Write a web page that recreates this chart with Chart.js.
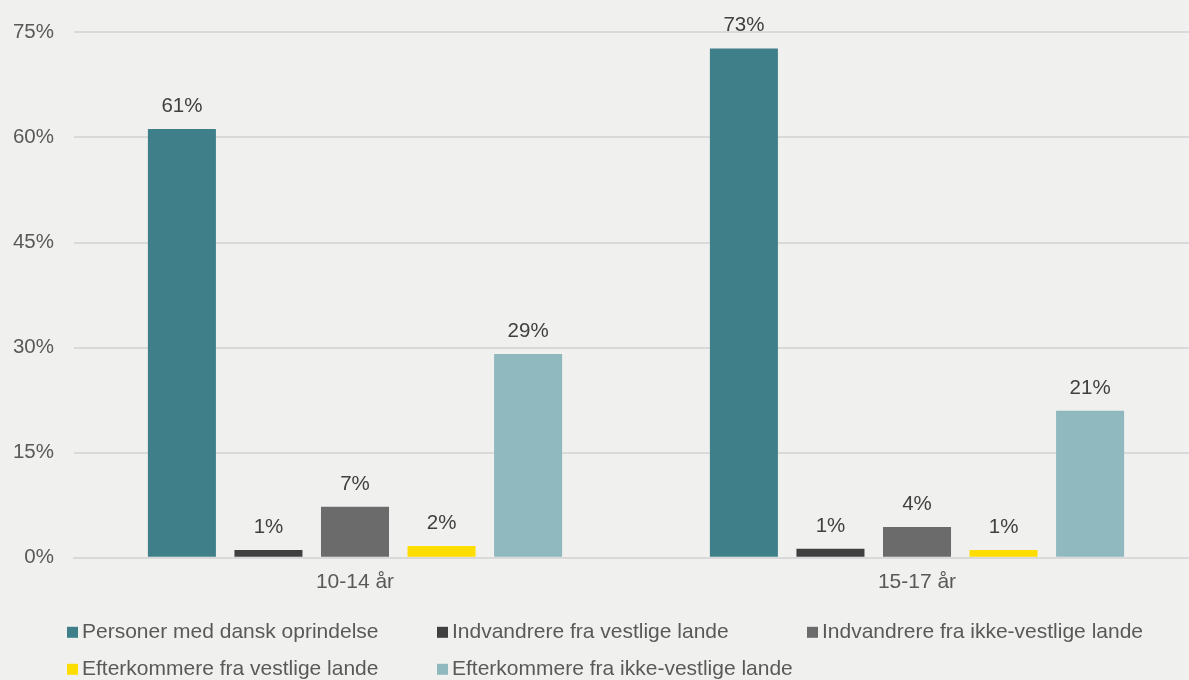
<!DOCTYPE html>
<html>
<head>
<meta charset="utf-8">
<script src="https://cdn.jsdelivr.net/npm/chart.js@4/dist/chart.umd.min.js"></script>
<style>
  html, body { margin: 0; padding: 0; background: #f0f0ee; overflow: hidden; }
  #wrap { width: 1200px; height: 680px; }
</style>
</head>
<body>
<div id="wrap"><canvas id="ageChart" width="1200" height="680"></canvas></div>
<script>
// ===============================
// DATA
// ===============================
const categories = ['10-14 år', '15-17 år'];
const seriesNames = [
  'Personer med dansk oprindelse',
  'Indvandrere fra vestlige lande',
  'Indvandrere fra ikke-vestlige lande',
  'Efterkommere fra vestlige lande',
  'Efterkommere fra ikke-vestlige lande',
];
const danskOprindelse = [61.2, 72.7];
const indvVestlige = [1.1, 1.3];
const indvIkkeVestlige = [7.3, 4.4];
const efterVestlige = [1.7, 1.1];
const efterIkkeVestlige = [29.1, 21.0];
const yTicks = [0, 15, 30, 45, 60, 75];

const seriesValues = [danskOprindelse, indvVestlige, indvIkkeVestlige, efterVestlige, efterIkkeVestlige];
const seriesColors = ['#3f7f8a', '#404040', '#6b6b6b', '#ffdd00', '#8fb8bf'];

const FONT = '"Liberation Sans", Arial, sans-serif';

// ===============================
// PLUGINS – value labels + legend grid
// ===============================
const valueLabels = {
  id: 'valueLabels',
  afterDatasetsDraw(chart) {
    const { ctx } = chart;
    ctx.save();
    ctx.font = `20.5px ${FONT}`;
    ctx.fillStyle = '#404040';
    ctx.textAlign = 'center';
    ctx.textBaseline = 'alphabetic';
    chart.data.datasets.forEach((ds, i) => {
      chart.getDatasetMeta(i).data.forEach((bar, j) => {
        ctx.fillText(`${Math.round(ds.data[j])}%`, bar.x, bar.y - 17);
      });
    });
    ctx.restore();
  },
};

const gridLegend = {
  id: 'gridLegend',
  afterDraw(chart) {
    const { ctx, chartArea } = chart;
    const x0 = 67, colW = 370, perRow = 3;
    const rowY = [chartArea.bottom + 74, chartArea.bottom + 111];
    ctx.save();
    ctx.font = `21px ${FONT}`;
    ctx.textBaseline = 'middle';
    ctx.textAlign = 'left';
    chart.data.datasets.forEach((ds, i) => {
      const x = x0 + (i % perRow) * colW;
      const y = rowY[Math.floor(i / perRow)];
      ctx.fillStyle = ds.backgroundColor;
      ctx.fillRect(x, y - 5, 11, 11);
      ctx.fillStyle = '#595959';
      ctx.fillText(ds.label, x + 15, y);
    });
    ctx.restore();
  },
};

// ===============================
// CHART
// ===============================
const ctx = document.getElementById('ageChart').getContext('2d');
const chart = new Chart(ctx, {
  type: 'bar',
  data: {
    labels: categories,
    datasets: seriesNames.map((name, i) => ({
      label: name,
      data: seriesValues[i],
      backgroundColor: seriesColors[i],
      barPercentage: 0.786,
      categoryPercentage: 0.77,
    })),
  },
  options: {
    responsive: false,
    animation: false,
    layout: { padding: { top: 31, right: 2, bottom: 81, left: 0 } },
    plugins: {
      legend: { display: false },
      tooltip: { enabled: false },
    },
    scales: {
      x: {
        grid: { display: false },
        border: { color: '#d9d9d9', width: 2 },
        ticks: {
          color: '#595959',
          padding: 4,
          font: { family: FONT, size: 21 },
        },
      },
      y: {
        min: 0,
        max: 75,
        afterBuildTicks: (scale) => { scale.ticks = yTicks.map((v) => ({ value: v })); },
        afterFit: (scale) => { scale.width = 74; },
        border: { display: false },
        grid: { color: '#d9d9d9', lineWidth: 2, drawTicks: false },
        ticks: {
          color: '#595959',
          padding: 20,
          font: { family: FONT, size: 20.5 },
          callback: (value) => `${value}%`,
        },
      },
    },
  },
  plugins: [valueLabels, gridLegend],
});
</script>
</body>
</html>
